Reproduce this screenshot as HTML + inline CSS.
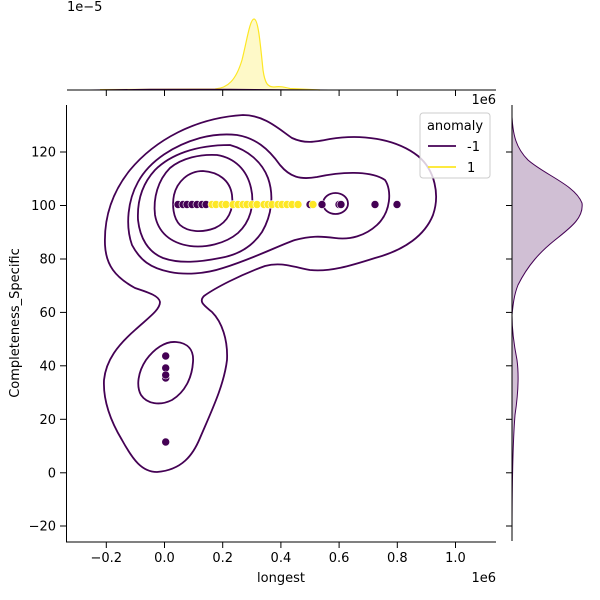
<!DOCTYPE html>
<html><head><meta charset="utf-8"><style>
body{margin:0;background:#fff}
svg{display:block}
text{font-family:"DejaVu Sans","Liberation Sans",sans-serif;font-size:13px;fill:#000}
</style></head><body>
<svg width="600" height="600" viewBox="0 0 600 600" xmlns="http://www.w3.org/2000/svg">
<rect width="600" height="600" fill="#fff"/>
<!-- top marginal -->
<path d="M100,89.6 L215,89 C228,88 236,80 242,60 C247,40 250,19 254,19 C258,19 260,40 263,70 C265,84 268,87 274,87 C280,86 284,87 290,88.5 L310,89.5 L320,90 L100,90 Z" fill="#fde725" fill-opacity="0.25" stroke="none"/>
<path d="M100,89.6 L215,89 C228,88 236,80 242,60 C247,40 250,19 254,19 C258,19 260,40 263,70 C265,84 268,87 274,87 C280,86 284,87 290,88.5 L310,89.5 L320,90" fill="none" stroke="#fde725" stroke-width="1.2"/>
<path d="M90,90 L150,89.3 L230,89.3 L285,89.7 L330,90" fill="none" stroke="#440154" stroke-width="1"/>
<line x1="67" y1="90" x2="496" y2="90" stroke="#000" stroke-width="1"/>
<g stroke="#000" stroke-width="1">
<line x1="106.3" y1="90" x2="106.3" y2="96"/><line x1="164.5" y1="90" x2="164.5" y2="96"/><line x1="222.7" y1="90" x2="222.7" y2="96"/><line x1="280.9" y1="90" x2="280.9" y2="96"/><line x1="339.1" y1="90" x2="339.1" y2="96"/><line x1="397.3" y1="90" x2="397.3" y2="96"/><line x1="455.5" y1="90" x2="455.5" y2="96"/>
</g>
<text x="67" y="11">1e−5</text>
<!-- right marginal -->
<path d="M512,117 C513,135 516,148 528,160 C545,175 575,185 582,203 C584,218 570,228 555,240 C540,252 528,265 518,285 C514,295 513,305 512,315 C512,330 514,345 517,360 C519,375 518,395 515,415 C513,440 512,470 512,541 Z" fill="#440154" fill-opacity="0.25" stroke="#440154" stroke-width="1"/>
<line x1="512" y1="105" x2="512" y2="541" stroke="#000" stroke-width="1"/>
<g stroke="#000" stroke-width="1">
<line x1="506" y1="152" x2="512" y2="152"/><line x1="506" y1="205.5" x2="512" y2="205.5"/><line x1="506" y1="259" x2="512" y2="259"/><line x1="506" y1="312.4" x2="512" y2="312.4"/><line x1="506" y1="365.8" x2="512" y2="365.8"/><line x1="506" y1="419.3" x2="512" y2="419.3"/><line x1="506" y1="472.8" x2="512" y2="472.8"/><line x1="506" y1="526" x2="512" y2="526"/>
</g>
<!-- contours -->
<g fill="none" stroke="#440154" stroke-width="1.8">
<path d="M243,115 C265,115 280,130 292,138 C305,144 315,142 330,139 C360,134 395,138 418,156 C435,170 440,195 433,215 C425,235 405,250 375,258 C350,266 330,272 310,270 C290,266 280,262 265,266 C240,275 215,288 204,296 C198,302 205,306 212,312 C222,322 228,340 227,360 C224,385 212,410 200,438 C193,455 182,470 157,472 C142,472 133,460 122,440 C110,420 103,400 104,380 C106,360 118,345 135,330 C148,318 160,310 160,302 C159,296 150,293 135,288 C115,277 106,265 105,245 C104,220 110,195 130,170 C155,140 195,118 243,115 Z"/>
<path d="M237,135 C255,138 268,148 280,165 C290,177 300,180 317,177 C340,172 370,170 385,180 C392,190 391,212 377,225 C365,236 350,240 335,238 C320,236 310,236 295,240 C280,245 255,258 223,268 C205,274 185,275 170,272 C150,268 140,260 132,245 C125,225 128,200 138,182 C150,160 175,145 200,138 C215,134 228,134 237,135 Z"/>
<path d="M230,145 C248,150 262,162 268,178 C274,195 272,215 262,232 C252,247 238,255 220,258 C200,262 180,264 163,258 C148,252 140,238 138,220 C137,200 143,183 155,170 C170,155 195,145 230,145 Z"/>
<path d="M217,155 C235,158 247,170 251,188 C255,205 250,222 238,233 C225,244 205,248 190,246 C170,243 158,232 155,215 C153,198 158,180 170,168 C182,158 200,154 217,155 Z"/>
<path d="M203,171 C218,172 230,180 232,195 C234,210 228,222 215,228 C202,233 188,232 180,225 C173,218 172,205 174,195 C177,182 188,171 203,171 Z"/>
<ellipse cx="335.5" cy="203.5" rx="12.5" ry="10.5"/>
<path d="M176,342 C188,343 194,350 193,362 C192,378 185,392 172,400 C160,406 147,404 141,395 C136,386 138,372 146,360 C154,349 165,341 176,342 Z"/>
</g>
<!-- points -->
<g stroke="#fff" stroke-width="0.6">
<g fill="#440154">
<circle cx="178" cy="204.5" r="4"/><circle cx="183" cy="204.5" r="4"/><circle cx="187" cy="204.5" r="4"/><circle cx="192" cy="204.5" r="4"/><circle cx="197" cy="204.5" r="4"/><circle cx="202" cy="204.5" r="4"/><circle cx="206" cy="204.5" r="4"/>
<circle cx="310" cy="204.5" r="4"/><circle cx="322" cy="204.5" r="4"/><circle cx="339" cy="204.5" r="4"/><circle cx="341" cy="204.5" r="4"/><circle cx="375" cy="204.5" r="4"/><circle cx="397" cy="204.5" r="4"/>
<circle cx="165.7" cy="356" r="4"/><circle cx="165.7" cy="368" r="4"/><circle cx="165.7" cy="378" r="4"/><circle cx="165.7" cy="375" r="4"/><circle cx="165.7" cy="442" r="4"/>
</g>
<g fill="#fde725">
<circle cx="212" cy="204.5" r="4"/><circle cx="216" cy="204.5" r="4"/><circle cx="222" cy="204.5" r="4"/><circle cx="226" cy="204.5" r="4"/><circle cx="233" cy="204.5" r="4"/><circle cx="238" cy="204.5" r="4"/><circle cx="243" cy="204.5" r="4"/><circle cx="247" cy="204.5" r="4"/><circle cx="252" cy="204.5" r="4"/><circle cx="257" cy="204.5" r="4"/><circle cx="264" cy="204.5" r="4"/><circle cx="268" cy="204.5" r="4"/><circle cx="272" cy="204.5" r="4"/><circle cx="278" cy="204.5" r="4"/><circle cx="282" cy="204.5" r="4"/><circle cx="287" cy="204.5" r="4"/><circle cx="292" cy="204.5" r="4"/><circle cx="298" cy="204.5" r="4"/><circle cx="313" cy="204.5" r="4"/>
</g>
</g>
<!-- main axes -->
<line x1="66.5" y1="105" x2="66.5" y2="542" stroke="#000" stroke-width="1"/>
<line x1="66" y1="542" x2="496" y2="542" stroke="#000" stroke-width="1"/>
<g stroke="#000" stroke-width="1">
<line x1="106.3" y1="542" x2="106.3" y2="548"/><line x1="164.5" y1="542" x2="164.5" y2="548"/><line x1="222.7" y1="542" x2="222.7" y2="548"/><line x1="280.9" y1="542" x2="280.9" y2="548"/><line x1="339.1" y1="542" x2="339.1" y2="548"/><line x1="397.3" y1="542" x2="397.3" y2="548"/><line x1="455.5" y1="542" x2="455.5" y2="548"/>
<line x1="60" y1="152" x2="66" y2="152"/><line x1="60" y1="205.5" x2="66" y2="205.5"/><line x1="60" y1="259" x2="66" y2="259"/><line x1="60" y1="312.4" x2="66" y2="312.4"/><line x1="60" y1="365.8" x2="66" y2="365.8"/><line x1="60" y1="419.3" x2="66" y2="419.3"/><line x1="60" y1="472.8" x2="66" y2="472.8"/><line x1="60" y1="526" x2="66" y2="526"/>
</g>
<g text-anchor="middle">
<text x="106.3" y="562">−0.2</text><text x="164.5" y="562">0.0</text><text x="222.7" y="562">0.2</text><text x="280.9" y="562">0.4</text><text x="339.1" y="562">0.6</text><text x="397.3" y="562">0.8</text><text x="455.5" y="562">1.0</text>
<text x="281" y="582">longest</text>
</g>
<g text-anchor="end">
<text x="56" y="156.5">120</text><text x="56" y="210">100</text><text x="56" y="263.5">80</text><text x="56" y="317">60</text><text x="56" y="370.3">40</text><text x="56" y="423.8">20</text><text x="56" y="477.3">0</text><text x="56" y="530.5">−20</text>
<text x="496" y="582">1e6</text>
<text x="496" y="104">1e6</text>
</g>
<text transform="translate(19,323) rotate(-90)" text-anchor="middle">Completeness_Specific</text>
<!-- legend -->
<rect x="420" y="113" width="70" height="65" rx="3" fill="#fff" fill-opacity="0.8" stroke="#ccc" stroke-width="1"/>
<text x="455" y="130" text-anchor="middle">anomaly</text>
<line x1="428" y1="146" x2="456" y2="146" stroke="#440154" stroke-width="1.8"/>
<text x="467" y="151">-1</text>
<line x1="428" y1="167" x2="456" y2="167" stroke="#fde725" stroke-width="1.8"/>
<text x="467" y="172">1</text>
</svg>
</body></html>
